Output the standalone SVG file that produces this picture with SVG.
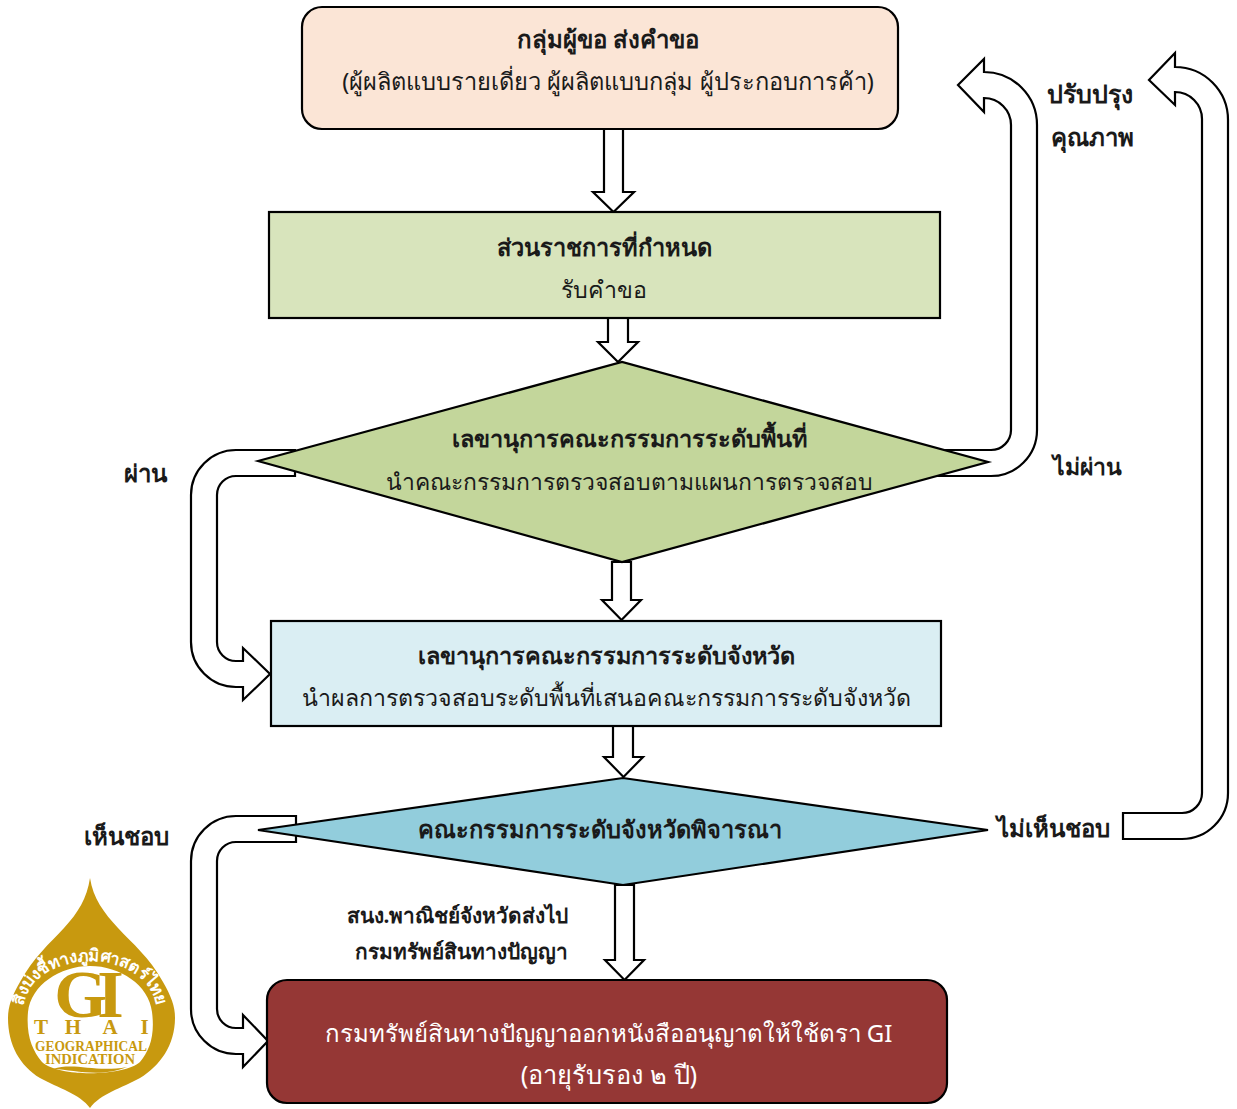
<svg xmlns="http://www.w3.org/2000/svg" width="1237" height="1109" viewBox="0 0 1237 1109">
<style>
text{font-family:"Noto Sans","DejaVu Sans","Liberation Sans",sans-serif;font-size:24px;fill:#1a1a1a;text-anchor:middle}
.b{font-weight:700}
.s{font-size:21px}
.n{stroke:#000;stroke-width:2.2}
.a{fill:#fff;stroke:#000;stroke-width:2.2;stroke-linejoin:miter}
.w{fill:#fff}
.g{fill:#c8990f}
.logo text{font-family:"Liberation Serif",serif;fill:#c8990f;font-weight:700}
</style>
<rect width="1237" height="1109" fill="#fff"/>
<g id="connectors">
<path class="a" d="M604 128H623V192H634L613.500 212 593 192H604Z"/>
<path class="a" d="M608 318H628V342H638L618 362 598 342H608Z"/>
<path class="a" d="M612 562H631V600H641L621.500 620 602 600H612Z"/>
<path class="a" d="M613 726H633V757H643L623.500 777 604 757H613Z"/>
<path class="a" d="M615 885H634V960H644L624.500 980 605 960H615Z"/>
<path class="a" d="M295 450H236A45 45 0 0 0 191 495V642A45 45 0 0 0 236 687H243V700L270 674 243 648V661H236A19 19 0 0 1 217 642V495A19 19 0 0 1 236 476H295Z"/>
<path class="a" d="M296 816V842H236A19 19 0 0 0 217 861V1009A19 19 0 0 0 236 1028H243V1015L268 1041 243 1067V1054H236A45 45 0 0 1 191 1009V861A45 45 0 0 1 236 816Z"/>
<path class="a" d="M930 450H991A20 20 0 0 0 1011 430V125A27 27 0 0 0 984 98V112L958 85 984 59V72A53 53 0 0 1 1037 125V430A46 46 0 0 1 991 476H930Z"/>
<path class="a" d="M1123 813H1182A20 20 0 0 0 1202 793V119A27 27 0 0 0 1175 92V105L1149 80 1175 53V67A53 53 0 0 1 1228 120V793A46 46 0 0 1 1182 839H1123Z"/>
</g>
<g id="node-applicant">
<rect class="n" x="302" y="7" width="596" height="122" rx="20" fill="#fbe5d6"/>
<text class="b" x="608" y="48">กลุ่มผู้ขอ ส่งคำขอ</text>
<text x="608" y="90" style="font-size:23.600px">(ผู้ผลิตแบบรายเดี่ยว ผู้ผลิตแบบกลุ่ม ผู้ประกอบการค้า)</text>
</g>
<g id="node-agency">
<rect class="n" x="269" y="212" width="671" height="106" fill="#d8e4bc"/>
<text class="b" x="604" y="256" style="font-size:23.600px">ส่วนราชการที่กำหนด</text>
<text x="604" y="298" style="font-size:23.200px">รับคำขอ</text>
</g>
<g id="node-area-secretary">
<path class="n" d="M258 461 622 362 988 462 622 562Z" fill="#c3d69b"/>
<text class="b" x="629" y="447" style="font-size:23.500px">เลขานุการคณะกรรมการระดับพื้นที่</text>
<text x="629" y="490" style="font-size:22.900px">นำคณะกรรมการตรวจสอบตามแผนการตรวจสอบ</text>
</g>
<g id="node-province-secretary">
<rect class="n" x="271" y="621" width="670" height="105" fill="#daeef3"/>
<text class="b" x="606" y="664" style="font-size:23.500px">เลขานุการคณะกรรมการระดับจังหวัด</text>
<text x="606" y="706" style="font-size:23.200px">นำผลการตรวจสอบระดับพื้นที่เสนอคณะกรรมการระดับจังหวัด</text>
</g>
<g id="node-province-committee">
<path class="n" d="M258 830 623 778 988 830 623 885Z" fill="#92cddc"/>
<text class="b" x="599.500" y="838" style="font-size:23.600px">คณะกรรมการระดับจังหวัดพิจารณา</text>
</g>
<g id="node-dip">
<rect class="n" x="267" y="980" width="680" height="123" rx="20" fill="#953735"/>
<text x="608.500" y="1042" style="fill:#fff">กรมทรัพย์สินทางปัญญาออกหนังสืออนุญาตให้ใช้ตรา GI</text>
<text x="609" y="1084" style="fill:#fff;font-size:25.400px">(อายุรับรอง ๒ ปี)</text>
</g>
<g id="labels">
<text class="b" x="1090" y="103" style="font-size:25px">ปรับปรุง</text>
<text class="b" x="1092" y="146">คุณภาพ</text>
<text class="b" x="1087.500" y="475" style="font-size:23px">ไม่ผ่าน</text>
<text class="b" x="1053" y="837">ไม่เห็นชอบ</text>
<text class="b" x="145" y="482">ผ่าน</text>
<text class="b" x="126" y="845">เห็นชอบ</text>
<text class="b s" x="457.500" y="923" style="font-size:20.800px">สนง.พาณิชย์จังหวัดส่งไป</text>
<text class="b s" x="461.500" y="959" style="font-size:20.800px">กรมทรัพย์สินทางปัญญา</text>
</g>
<g id="logo" class="logo">
<path class="g" d="M90 878C93 898 104 913 118 928C132 943 150 958 163 982C171 996 175 1006 175 1018C175 1045 160 1066 140 1078C122 1088 100 1094 90 1108C80 1094 58 1088 40 1078C20 1066 8 1045 8 1018C8 1006 12 996 20 982C33 958 50 943 64 928C78 913 87 898 90 878Z"/>
<path class="w" d="M28 1012C31 985 60 966 90 966C120 966 149 985 152 1012C155 1035 150 1050 140 1062C125 1076 60 1078 42 1062C32 1050 26 1035 28 1012Z"/>
<path class="g" d="M53 1069C75 1062 95 1073 127 1067C100 1078 75 1070 53 1069Z"/>
<defs><path id="arc" d="M21 1032L23 1008C27 976 60 961 90 961C120 961 153 976 157 1008L159 1032"/></defs>
<text style="fill:#fff;font-family:'Noto Sans','DejaVu Sans',sans-serif;font-size:16.500px;font-weight:700"><textPath href="#arc" startOffset="50%">สิ่งบ่งชี้ทางภูมิศาสตร์ไทย</textPath></text>
<text x="84" y="1017" style="font-size:68px;letter-spacing:-10px">GI</text>
<text x="41 57 73 91 110 127 144.500" y="1034" style="font-size:21px">T H A I</text>
<text x="91" y="1051" style="font-size:14px" textLength="112" lengthAdjust="spacingAndGlyphs">GEOGRAPHICAL</text>
<text x="90" y="1064" style="font-size:14px" textLength="90" lengthAdjust="spacingAndGlyphs">INDICATION</text>
</g>
</svg>
